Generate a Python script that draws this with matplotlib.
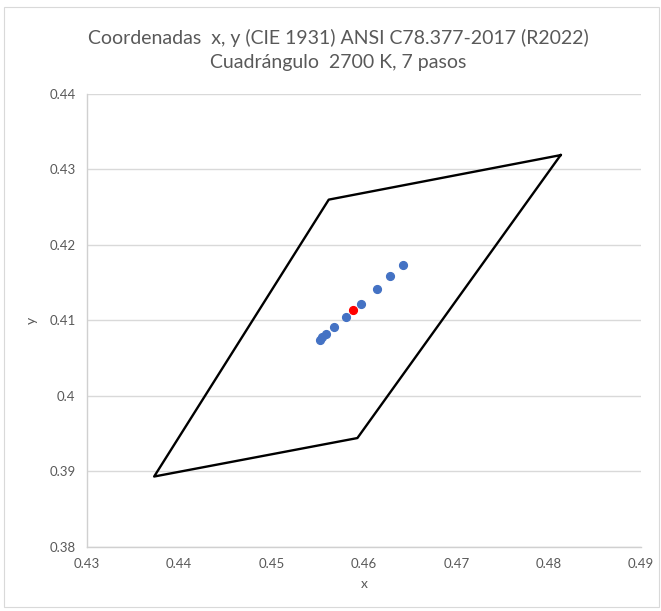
import matplotlib
matplotlib.use("Agg")
import matplotlib.pyplot as plt
from matplotlib.patches import Rectangle

# Quadrangle 2700 K, 7 steps (closed polygon)
quad_x = [0.4813, 0.4562, 0.4373, 0.4593, 0.4813]
quad_y = [0.4319, 0.4260, 0.3893, 0.3944, 0.4319]

# Measured points (blue)
pts_x = [0.4552, 0.4555, 0.4559, 0.4568, 0.4581, 0.4597, 0.4614, 0.4628, 0.4642]
pts_y = [0.4074, 0.4078, 0.4082, 0.4091, 0.4105, 0.4122, 0.4141, 0.4159, 0.4174]

# Center point (red)
center_x = [0.4588]
center_y = [0.4114]

xticks = [0.43, 0.44, 0.45, 0.46, 0.47, 0.48, 0.49]
yticks = [0.38, 0.39, 0.40, 0.41, 0.42, 0.43, 0.44]
xticklabels = ["0.43", "0.44", "0.45", "0.46", "0.47", "0.48", "0.49"]
yticklabels = ["0.38", "0.39", "0.4", "0.41", "0.42", "0.43", "0.44"]

title = "Coordenadas  x, y (CIE 1931) ANSI C78.377-2017 (R2022)\nCuadrángulo  2700 K, 7 pasos"

plt.rcParams['font.family'] = ['Lato', 'DejaVu Sans']
gray = "#595959"

fig = plt.figure(figsize=(6.61, 6.11), dpi=100)
fig.patches.append(Rectangle((4/661, 1 - 607/611), 655/661, 600/611, transform=fig.transFigure,
                             fill=False, edgecolor="#d9d9d9", linewidth=0.8))
ax = fig.add_axes([86.7/661, 1 - 546.7/611, (641 - 86.7)/661, (546.7 - 94)/611])

ax.plot(quad_x, quad_y, color="black", linewidth=1.7, zorder=3)
ax.plot(pts_x, pts_y, linestyle="none", marker="o", markersize=5.6,
        color="#4472C4", zorder=4)
ax.plot(center_x, center_y, linestyle="none", marker="o", markersize=5.6,
        color="#FF0000", zorder=5)

ax.set_xlim(0.43, 0.49)
ax.set_ylim(0.38, 0.44)
ax.set_xticks(xticks)
ax.set_xticklabels(xticklabels)
ax.set_yticks(yticks)
ax.set_yticklabels(yticklabels)
ax.tick_params(length=0, labelsize=9.5, labelcolor=gray, pad=8)
ax.grid(axis="y", color="#d9d9d9", linewidth=1)
ax.set_axisbelow(True)
for s in ["top", "right"]:
    ax.spines[s].set_visible(False)
for s in ["left", "bottom"]:
    ax.spines[s].set_color("#d0d0d0")
    ax.spines[s].set_linewidth(1)

ax.set_xlabel("x", fontsize=10, color=gray, labelpad=6)
ax.set_ylabel("y", fontsize=10, color=gray, labelpad=8)

fig.text(338/661, 1 - 50/611, title, ha="center", va="center", fontsize=14,
         color=gray, linespacing=1.45)

fig.savefig("out.png", dpi=100)
